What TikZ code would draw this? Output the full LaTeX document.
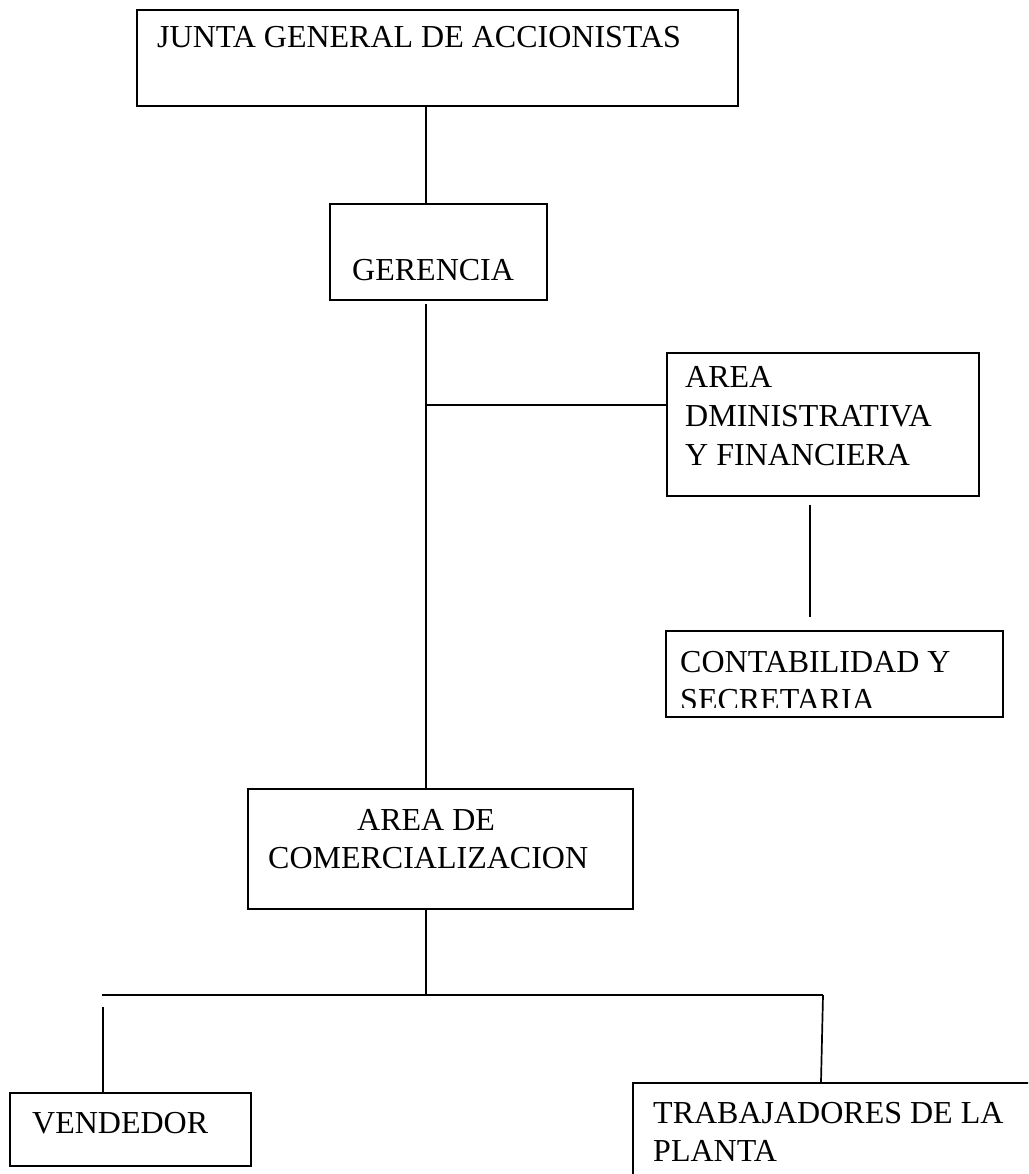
\documentclass[tikz,border=0pt]{standalone}
\usepackage{fontspec}
\setmainfont{Liberation Serif}
\begin{document}
\begin{tikzpicture}[x=1pt,y=-1pt,
  box/.style={draw=black,line width=1.7pt,rectangle,inner sep=0pt,anchor=north west},
  lbl/.style={anchor=base west,inner sep=0pt,text=black,font=\fontsize{32}{38}\selectfont},
  conn/.style={draw=black,line width=1.7pt}]
\useasboundingbox (0,0) rectangle (1028,1174);
\fill[white] (0,0) rectangle (1028,1174);
\clip (0,0) rectangle (1028,1174);

% boxes
\node[box,minimum width=601pt,minimum height=96pt] (junta) at (136,9) {};
\node[box,minimum width=217pt,minimum height=96pt] (ger) at (329,203) {};
\node[box,minimum width=312pt,minimum height=143pt] (adm) at (666,352) {};
\node[box,minimum width=337pt,minimum height=86pt] (cont) at (665,630) {};
\node[box,minimum width=385pt,minimum height=120pt] (com) at (247,788) {};
\node[box,minimum width=241pt,minimum height=73pt] (vend) at (9,1092) {};
\node[box,minimum width=440pt,minimum height=200pt] (trab) at (632,1082) {};

% texts
\node[lbl] (juntaT) at (157,48) {JUNTA GENERAL DE ACCIONISTAS};
\node[lbl] (gerT) at (352,280) {GERENCIA};
\node[lbl] (admT1) at (685,387) {AREA};
\node[lbl] (admT2) at (685,426) {DMINISTRATIVA};
\node[lbl] (admT3) at (685,465) {Y FINANCIERA};
\node[lbl] (contT1) at (680,672) {CONTABILIDAD Y};
\begin{scope}
  \clip (665,640) rectangle (1002,707);
  \node[lbl] (contT2) at (680,710) {SECRETARIA};
\end{scope}
\node[lbl] (comT1) at (357,830) {AREA DE};
\node[lbl] (comT2) at (268,868) {COMERCIALIZACION};
\node[lbl] (vendT) at (32,1133) {VENDEDOR};
\node[lbl] (trabT1) at (653,1123) {TRABAJADORES DE LA};
\node[lbl] (trabT2) at (653,1161) {PLANTA};

% connector reference coordinates
\coordinate (trunk) at (426,0);
\coordinate (branch) at (426,405);
\coordinate (accx) at (810,0);
\coordinate (bus) at (426,995);
\coordinate (busL) at (102,995);
\coordinate (busR) at (823,995);
\coordinate (vendx) at (103,0);
\coordinate (trabx) at (821,0);

% connectors
\draw[conn] (junta.south -| trunk) -- (ger.north -| trunk);
\draw[conn] ([yshift=-3pt]ger.south -| trunk) -- (com.north -| trunk);
\draw[conn] (branch) -- (branch -| adm.west);
\draw[conn] ([yshift=-8pt]adm.south -| accx) -- ([yshift=13pt]cont.north -| accx);
\draw[conn] (com.south -| trunk) -- (bus);
\draw[conn] (busL) -- (busR);
\draw[conn] ([yshift=-12pt]busL -| vendx) -- (vend.north -| vendx);
\draw[conn] (busR) -- (trab.north -| trabx);
\end{tikzpicture}
\end{document}
